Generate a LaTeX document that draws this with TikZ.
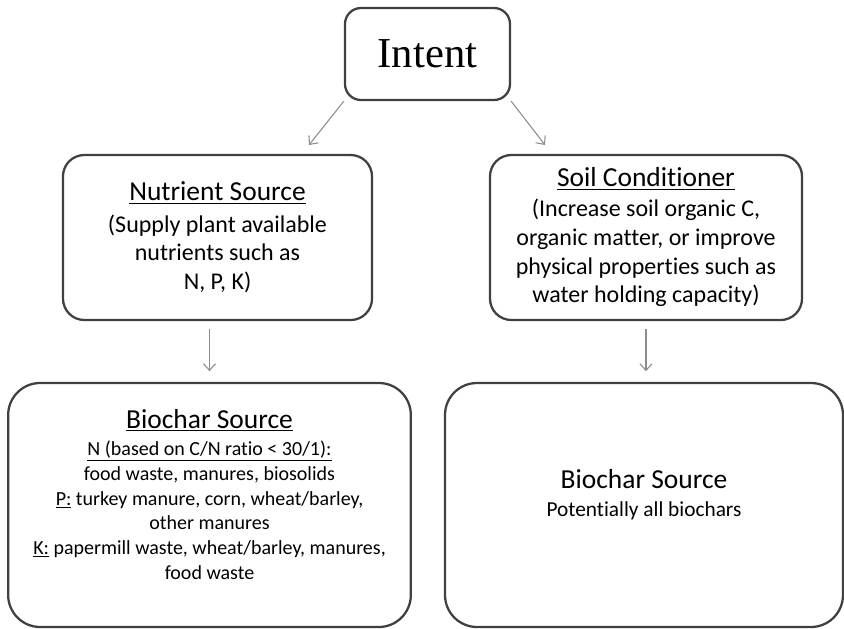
\documentclass[tikz,border=0pt]{standalone}
\usepackage{fontspec}
\setmainfont{Carlito}[Ligatures=CommonOff]
\newfontfamily\intentfont{Liberation Serif}
\usetikzlibrary{arrows.meta}

\begin{document}
\begin{tikzpicture}[x=0.75pt,y=-0.75pt]
	\tikzstyle{box}=[draw=black!75, line width=1.7pt, rounded corners=12pt, align=center, inner sep=0pt, text=black]
	\tikzstyle{mid}=[box, rounded corners=16pt, minimum height=123.75pt, font=\fontsize{18}{21.5}\selectfont]
	\tikzstyle{big}=[box, rounded corners=24pt, minimum height=183pt]
	\tikzstyle{txt}=[align=center, inner sep=0pt, text=black, font=\fontsize{15}{18.5}\selectfont]
	\tikzstyle{arr}=[draw=black!45, line width=0.8pt, -{Straight Barb[length=5pt,width=9pt]}]
	\newcommand{\ttl}[1]{{\fontsize{20.6}{24}\selectfont #1}}

	\useasboundingbox (0,0) rectangle (844,629);

	\node[box, minimum width=123.75pt, minimum height=69pt, font=\intentfont\fontsize{32}{36}\selectfont] (intent) at (427.5,54) {Intent};

	\node[mid, minimum width=231.75pt] (nutrient) at (217.5,237.5) {\ttl{\underline{Nutrient Source}}\\[2pt]
		(Supply plant available\\ nutrients such as\\ N, P, K)};
	\node[mid, minimum width=234pt] (soil) at (646,237.5) {\ttl{\underline{Soil Conditioner}}\\[1pt]
		(Increase soil organic C,\\ organic matter, or improve\\ physical properties such as\\ water holding capacity)};

	\node[big, minimum width=302pt] (bleft) at (209.5,505) {};
	\node[big, minimum width=298.5pt] (bright) at (644,505) {};

	\node[txt] (bleft-txt) at ([yshift=8pt]bleft.center) {\ttl{\underline{Biochar Source}}\\[2pt]
		\underline{N (based on C/N ratio < 30/1):}\\ food waste, manures, biosolids\\
		\underline{P:} turkey manure, corn, wheat/barley,\\ other manures\\
		\underline{K:} papermill waste, wheat/barley, manures,\\ food waste};
	\node[txt, font=\fontsize{16}{20}\selectfont] (bright-txt) at ([yshift=8pt]bright.center) {\ttl{Biochar Source}\\[1pt] Potentially all biochars};

	\coordinate (nin) at (309,145);
	\coordinate (sin) at (545,145);
	\foreach \from/\to in {intent.south west/nin, intent.south east/sin}
		\draw[arr] (\from) -- (\to);
	\draw[arr, shorten <=6pt, shorten >=8pt] (nutrient.south -| bleft.north) -- (bleft.north);
	\draw[arr, shorten <=6pt, shorten >=8pt] (soil.south) -- (soil.south |- bright.north);
\end{tikzpicture}
\end{document}
